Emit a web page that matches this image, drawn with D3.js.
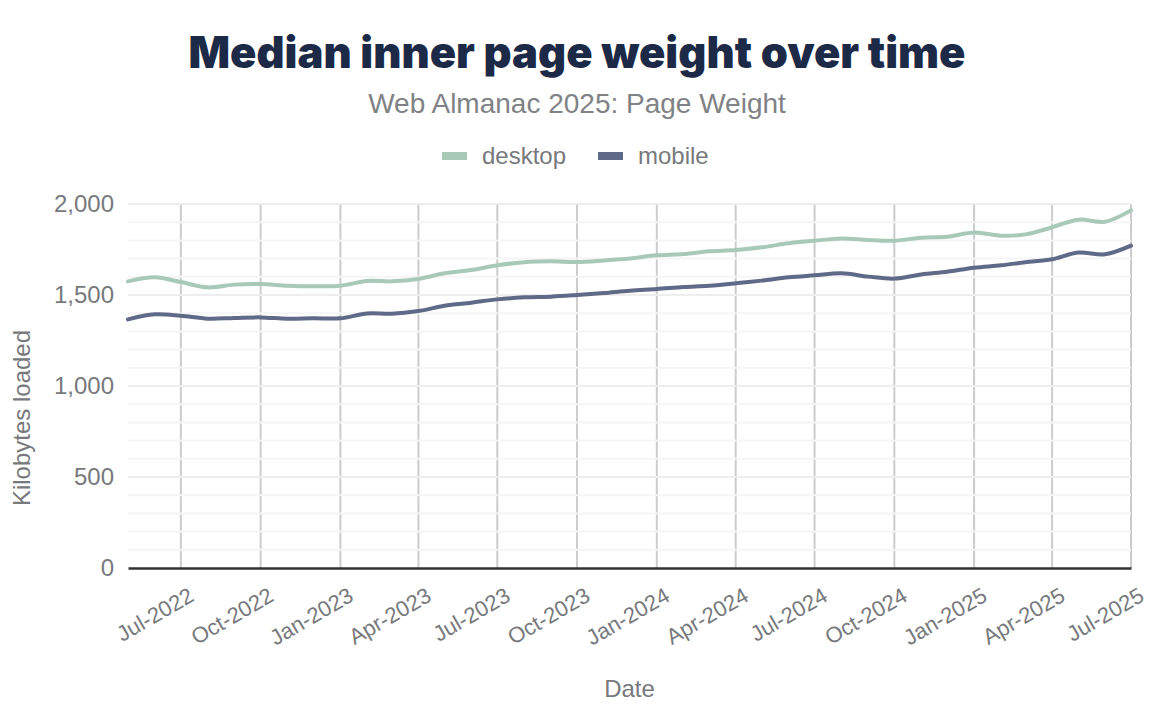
<!DOCTYPE html>
<html lang="en">
  <head>
    <meta charset="utf-8"/>
    <title>Median inner page weight over time</title>
    <style>
      body { margin: 0; background: #fff; }
      text { font-family: "Liberation Sans", Arial, sans-serif; }
    </style>
  </head>
  <body>
    <svg id="chart"></svg>

    <script src="https://d3js.org/d3.v7.min.js"></script>
    <script type="text/javascript">
      const width = 1170;
      const height = 722;
      const margin = {top: 204, right: 39, bottom: 154, left: 128};

      // monthly crawl dates, May 2022 .. Jul 2025
      const months = [
        "2022-05", "2022-06", "2022-07", "2022-08", "2022-09", "2022-10", "2022-11", "2022-12",
        "2023-01", "2023-02", "2023-03", "2023-04", "2023-05", "2023-06", "2023-07", "2023-08",
        "2023-09", "2023-10", "2023-11", "2023-12", "2024-01", "2024-02", "2024-03", "2024-04",
        "2024-05", "2024-06", "2024-07", "2024-08", "2024-09", "2024-10", "2024-11", "2024-12",
        "2025-01", "2025-02", "2025-03", "2025-04", "2025-05", "2025-06", "2025-07"
      ];
      const desktop = [
        1575, 1597, 1571, 1542, 1557, 1560, 1551, 1548,
        1551, 1577, 1575, 1588, 1619, 1637, 1663, 1680,
        1685, 1681, 1690, 1701, 1718, 1725, 1740, 1747,
        1762, 1784, 1798, 1811, 1802, 1798, 1815, 1820,
        1844, 1826, 1833, 1872, 1914, 1903, 1965
      ];
      const mobile = [
        1366, 1394, 1386, 1370, 1374, 1377, 1370, 1372,
        1372, 1399, 1397, 1412, 1441, 1458, 1476, 1487,
        1491, 1500, 1511, 1524, 1533, 1544, 1551, 1564,
        1579, 1597, 1608, 1619, 1601, 1590, 1613, 1628,
        1650, 1663, 1680, 1696, 1733, 1724, 1771
      ];
      const seriesNames = ["desktop", "mobile"];
      const seriesColors = ["#a9c9b8", "#5f6988"];
      const yTicks = [0, 500, 1000, 1500, 2000];
      const xTickLabels = [
        "2022-07", "2022-10", "2023-01", "2023-04", "2023-07", "2023-10", "2024-01",
        "2024-04", "2024-07", "2024-10", "2025-01", "2025-04", "2025-07"
      ];

      const parseMonth = d3.timeParse("%Y-%m");
      const dates = months.map(parseMonth);
      const series = [desktop, mobile].map(function(vals, i) {
        return {
          name: seriesNames[i],
          color: seriesColors[i],
          values: vals.map(function(v, j) { return {date: dates[j], value: v}; })
        };
      });

      const svg = d3.select("#chart")
        .attr("width", width)
        .attr("height", height);

      const x = d3.scaleTime()
        .domain(d3.extent(dates))
        .range([margin.left, width - margin.right]);
      const y = d3.scaleLinear()
        .domain([0, 2000])
        .range([height - margin.bottom, margin.top]);

      const xTicks = xTickLabels.map(parseMonth);

      // vertical grid
      svg.append("g")
        .selectAll("line")
        .data(xTicks)
        .enter().append("line")
          .attr("x1", function(d) { return x(d); })
          .attr("x2", function(d) { return x(d); })
          .attr("y1", margin.top)
          .attr("y2", height - margin.bottom)
          .attr("stroke", "#cccccc")
          .attr("stroke-width", 2);

      // horizontal grid (every 100), drawn over the vertical one
      svg.append("g")
        .selectAll("line")
        .data(d3.range(100, 2001, 100))
        .enter().append("line")
          .attr("x1", margin.left)
          .attr("x2", width - margin.right)
          .attr("y1", function(d) { return y(d); })
          .attr("y2", function(d) { return y(d); })
          .attr("stroke", function(d) { return d % 500 === 0 ? "#eeeeee" : "#f5f5f5"; })
          .attr("stroke-width", 2);

      // lines
      const line = d3.line()
        .x(function(d) { return x(d.date); })
        .y(function(d) { return y(d.value); })
        .curve(d3.curveCatmullRom.alpha(0.5));

      svg.append("g")
        .selectAll("path")
        .data(series)
        .enter().append("path")
          .attr("d", function(d) { return line(d.values); })
          .attr("fill", "none")
          .attr("stroke", function(d) { return d.color; })
          .attr("stroke-width", 4)
          .attr("stroke-linecap", "round");

      // x axis
      const xAxis = svg.append("g")
        .attr("transform", "translate(0," + (height - margin.bottom) + ")")
        .call(d3.axisBottom(x)
          .tickValues(xTicks)
          .tickSize(0)
          .tickFormat(d3.timeFormat("%b-%Y")));
      xAxis.select(".domain")
        .attr("stroke", "#333333")
        .attr("stroke-width", 2.5);
      xAxis.selectAll("text")
        .attr("fill", "#77797c")
        .style("font-size", "22px")
        .attr("text-anchor", "end")
        .attr("dy", null)
        .attr("y", 0)
        .attr("transform", "translate(14,32) rotate(-30)");

      // y axis
      const yAxis = svg.append("g")
        .attr("transform", "translate(" + margin.left + ",0)")
        .call(d3.axisLeft(y)
          .tickValues(yTicks)
          .tickSize(0)
          .tickPadding(14)
          .tickFormat(d3.format(",")));
      yAxis.select(".domain").remove();
      yAxis.selectAll("text")
        .attr("fill", "#77797c")
        .style("font-size", "24px");

      // axis titles
      svg.append("text")
        .attr("x", (margin.left + width - margin.right) / 2)
        .attr("y", 697)
        .attr("text-anchor", "middle")
        .attr("fill", "#77797c")
        .style("font-size", "24px")
        .text("Date");

      svg.append("text")
        .attr("transform", "translate(30,418) rotate(-90)")
        .attr("text-anchor", "middle")
        .attr("fill", "#77797c")
        .style("font-size", "24px")
        .text("Kilobytes loaded");

      // title & subtitle
      svg.append("text")
        .attr("x", 577)
        .attr("y", 68)
        .attr("text-anchor", "middle")
        .attr("fill", "#1c2a48")
        .style("font-family", "Inter, 'Liberation Sans', sans-serif")
        .style("font-weight", "900")
        .style("font-size", "43.5px")
        .text("Median inner page weight over time");

      svg.append("text")
        .attr("x", 577)
        .attr("y", 113)
        .attr("text-anchor", "middle")
        .attr("fill", "#808285")
        .style("font-size", "28px")
        .text("Web Almanac 2025: Page Weight");

      // legend
      const legendX = [442, 598];
      const legend = svg.append("g")
        .selectAll("g")
        .data(series)
        .enter().append("g")
          .attr("transform", function(d, i) { return "translate(" + legendX[i] + ",156)"; });
      legend.append("rect")
        .attr("x", 0)
        .attr("y", -4)
        .attr("width", 25)
        .attr("height", 8)
        .attr("fill", function(d) { return d.color; });
      legend.append("text")
        .attr("x", 40)
        .attr("y", 8)
        .attr("fill", "#77797c")
        .style("font-size", "24px")
        .text(function(d) { return d.name; });
    </script>
  </body>
</html>
